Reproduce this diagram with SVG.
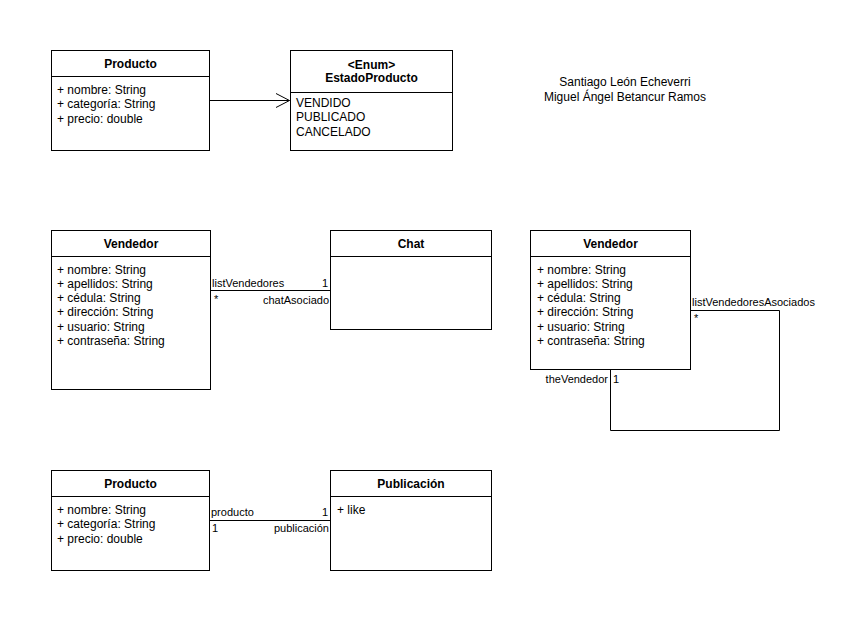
<svg xmlns="http://www.w3.org/2000/svg" width="866" height="624" viewBox="0 0 866 624">
  <style>
    .box { fill: #ffffff; stroke: #000000; stroke-width: 1; }
    .sep { stroke: #000000; stroke-width: 1; fill: none; }
    .edge { stroke: #000000; stroke-width: 1; fill: none; }
    text { font-family: "Liberation Sans", Arial, Helvetica, sans-serif; fill: #000000; }
    .title { font-size: 12px; font-weight: bold; text-anchor: middle; }
    .attr { font-size: 12px; }
    .lbl { font-size: 11px; }
    .end { text-anchor: end; }
    .note { font-size: 12px; text-anchor: middle; }
  </style>
  <rect width="866" height="624" fill="#ffffff"/>

  <!-- Producto (top) -->
  <g id="producto1">
    <rect class="box" x="51.5" y="50.5" width="158" height="100"/>
    <line class="sep" x1="51.5" y1="76.5" x2="209.5" y2="76.5"/>
    <text class="title" x="130.5" y="67.5">Producto</text>
    <text class="attr" x="57" y="94">+ nombre: String</text>
    <text class="attr" x="57" y="108">+ categoría: String</text>
    <text class="attr" x="57" y="123">+ precio: double</text>
  </g>

  <!-- EstadoProducto enum -->
  <g id="estadoProducto">
    <rect class="box" x="290.5" y="50.5" width="162" height="100"/>
    <line class="sep" x1="290.5" y1="92.5" x2="452.5" y2="92.5"/>
    <text class="title" x="371.5" y="69">&lt;Enum&gt;</text>
    <text class="title" x="371.5" y="82">EstadoProducto</text>
    <text class="attr" x="296" y="107">VENDIDO</text>
    <text class="attr" x="296" y="121">PUBLICADO</text>
    <text class="attr" x="296" y="136">CANCELADO</text>
  </g>

  <!-- Authors -->
  <g id="autores">
    <text class="note" x="625" y="86">Santiago León Echeverri</text>
    <text class="note" x="625" y="101">Miguel Ángel Betancur Ramos</text>
  </g>

  <!-- Vendedor (left) -->
  <g id="vendedor1">
    <rect class="box" x="51.5" y="230.5" width="159" height="159"/>
    <line class="sep" x1="51.5" y1="256.5" x2="210.5" y2="256.5"/>
    <text class="title" x="131" y="247.5">Vendedor</text>
    <text class="attr" x="57" y="274">+ nombre: String</text>
    <text class="attr" x="57" y="288">+ apellidos: String</text>
    <text class="attr" x="57" y="302">+ cédula: String</text>
    <text class="attr" x="57" y="316">+ dirección: String</text>
    <text class="attr" x="57" y="331">+ usuario: String</text>
    <text class="attr" x="57" y="345">+ contraseña: String</text>
  </g>

  <!-- Chat -->
  <g id="chat">
    <rect class="box" x="330.5" y="230.5" width="161" height="99"/>
    <line class="sep" x1="330.5" y1="256.5" x2="491.5" y2="256.5"/>
    <text class="title" x="411" y="247.5">Chat</text>
  </g>

  <!-- Vendedor (right, self association) -->
  <g id="vendedor2">
    <rect class="box" x="530.5" y="230.5" width="160" height="139"/>
    <line class="sep" x1="530.5" y1="256.5" x2="690.5" y2="256.5"/>
    <text class="title" x="610.5" y="247.5">Vendedor</text>
    <text class="attr" x="537" y="274">+ nombre: String</text>
    <text class="attr" x="537" y="288">+ apellidos: String</text>
    <text class="attr" x="537" y="302">+ cédula: String</text>
    <text class="attr" x="537" y="316">+ dirección: String</text>
    <text class="attr" x="537" y="331">+ usuario: String</text>
    <text class="attr" x="537" y="345">+ contraseña: String</text>
  </g>

  <!-- Producto (bottom) -->
  <g id="producto2">
    <rect class="box" x="51.5" y="470.5" width="158" height="100"/>
    <line class="sep" x1="51.5" y1="496.5" x2="209.5" y2="496.5"/>
    <text class="title" x="130.5" y="487.5">Producto</text>
    <text class="attr" x="57" y="514">+ nombre: String</text>
    <text class="attr" x="57" y="528">+ categoría: String</text>
    <text class="attr" x="57" y="543">+ precio: double</text>
  </g>

  <!-- Publicación -->
  <g id="publicacion">
    <rect class="box" x="330.5" y="470.5" width="161" height="100"/>
    <line class="sep" x1="330.5" y1="496.5" x2="491.5" y2="496.5"/>
    <text class="title" x="411" y="487.5">Publicación</text>
    <text class="attr" x="337" y="514">+ like</text>
  </g>

  <!-- Connectors -->
  <g id="connectors">
    <!-- Producto -> EstadoProducto -->
    <line class="edge" x1="209.5" y1="100.5" x2="289.5" y2="100.5"/>
    <polyline class="edge" points="276,93.5 289.5,100.5 276,107.5"/>

    <!-- Vendedor - Chat -->
    <line class="edge" x1="210.5" y1="290.5" x2="330.5" y2="290.5"/>
    <text class="lbl" x="212" y="287">listVendedores</text>
    <text class="lbl end" x="328" y="287">1</text>
    <text class="lbl" x="214" y="303">*</text>
    <text class="lbl end" x="329" y="304">chatAsociado</text>

    <!-- Vendedor self association -->
    <polyline class="edge" points="690.5,310.5 779.5,310.5 779.5,430.5 610.5,430.5 610.5,369.5"/>
    <text class="lbl" x="692" y="306">listVendedoresAsociados</text>
    <text class="lbl" x="694" y="322">*</text>
    <text class="lbl end" x="608" y="383">theVendedor</text>
    <text class="lbl" x="613" y="383">1</text>

    <!-- Producto - Publicación -->
    <line class="edge" x1="209.5" y1="520.5" x2="330.5" y2="520.5"/>
    <text class="lbl" x="211" y="516">producto</text>
    <text class="lbl end" x="328" y="516">1</text>
    <text class="lbl" x="212" y="532">1</text>
    <text class="lbl end" x="329" y="532">publicación</text>
  </g>
</svg>
